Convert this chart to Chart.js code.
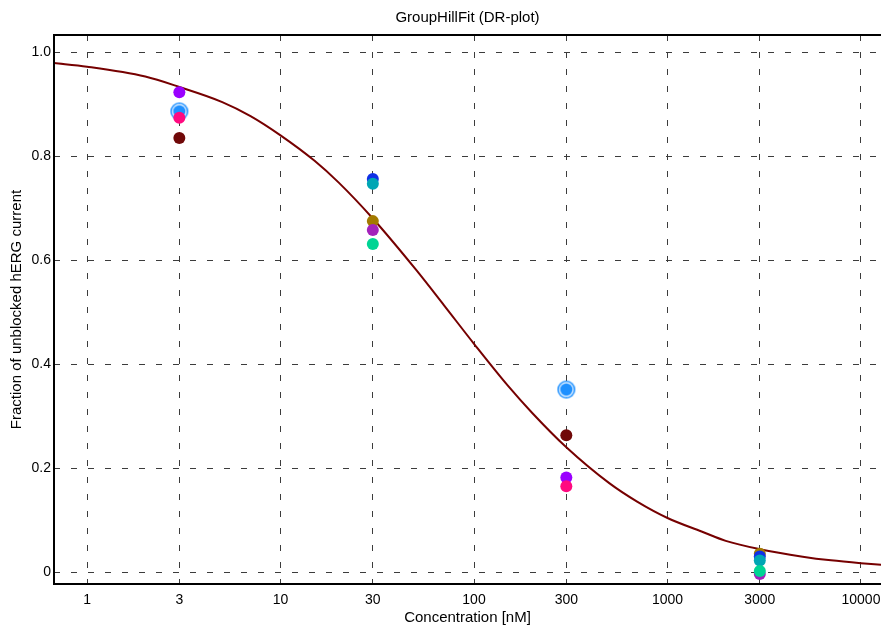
<!DOCTYPE html>
<html>
<head>
<meta charset="utf-8">
<title>GroupHillFit (DR-plot)</title>
<script src="https://cdn.jsdelivr.net/npm/chart.js@4.4.1/dist/chart.umd.min.js"></script>
<style>
  html, body { margin: 0; padding: 0; background: #fff; }
  #wrap { width: 881px; height: 627px; }
</style>
</head>
<body>
<div id="wrap"><canvas id="drPlot" width="881" height="627"></canvas></div>
<script>
// axis ticks
const xTickValues = [1, 3, 10, 30, 100, 300, 1000, 3000, 10000];
const yTickValues = [0, 0.2, 0.4, 0.6, 0.8, 1.0];
const yTickLabels = ['0', '0.2', '0.4', '0.6', '0.8', '1.0'];

// doses tested (nM) - two groups of cells
const lowDoses = [3, 300];
const highDoses = [30, 3000];

// fraction of unblocked current per cell
const cellPink = [0.874, 0.165];
const cellPurple = [0.923, 0.182];
const cellMaroon = [0.835, 0.263];
const cellRing = [0.886, 0.351];
const cellGreen = [0.631, 0.002];
const cellMagenta = [0.658, -0.004];
const cellTeal = [0.747, 0.022];
const cellBlue = [0.756, 0.030];
const cellOlive = [0.675, 0.035];

// fitted Hill curve
const fitConc = [0.675, 1, 2, 3, 5, 7, 10, 15, 20, 30, 50, 70, 100, 150, 200, 300, 500, 700, 1000, 1500, 2000, 3000, 5000, 7000, 10000, 12700];
const fitFrac = [0.979, 0.972, 0.953, 0.933, 0.904, 0.877, 0.840, 0.791, 0.749, 0.68, 0.582, 0.513, 0.439, 0.358, 0.306, 0.24, 0.171, 0.135, 0.104, 0.078, 0.060, 0.044, 0.0296, 0.0225, 0.017, 0.014];

function toPoints(xs, ys) {
    return xs.map((x, i) => ({ x: x, y: ys[i] }));
}

// blue filled dot with a white gap and an outer ring
function ringMarker() {
    const c = document.createElement('canvas');
    c.width = 20;
    c.height = 20;
    const g = c.getContext('2d');
    g.fillStyle = '#1e90ff';
    g.beginPath(); g.arc(10, 10, 9, 0, Math.PI * 2); g.fill();
    g.fillStyle = '#ffffff';
    g.beginPath(); g.arc(10, 10, 7.4, 0, Math.PI * 2); g.fill();
    g.fillStyle = '#1e90ff';
    g.beginPath(); g.arc(10, 10, 6.2, 0, Math.PI * 2); g.fill();
    return c;
}

function cellSet(label, xs, ys, color, order) {
    return {
        type: 'scatter',
        label: label,
        data: toPoints(xs, ys),
        backgroundColor: color,
        borderWidth: 0,
        pointRadius: 6,
        order: order
    };
}

// black frame on left, top and bottom
const framePlugin = {
    id: 'frame',
    afterDatasetsDraw(chart) {
        const { ctx, chartArea: a } = chart;
        ctx.save();
        ctx.strokeStyle = '#000';
        ctx.lineWidth = 2;
        ctx.beginPath();
        ctx.moveTo(a.right + 2, a.top);
        ctx.lineTo(a.left, a.top);
        ctx.lineTo(a.left, a.bottom);
        ctx.lineTo(a.right + 2, a.bottom);
        ctx.stroke();
        ctx.restore();
    }
};

const font = 'Liberation Sans, Arial, sans-serif';

const ringSet = cellSet('cell 4', lowDoses, cellRing, '#1e90ff', 4);
ringSet.pointStyle = ringMarker();

new Chart(document.getElementById('drPlot'), {
    type: 'line',
    data: {
        datasets: [
            cellSet('cell 1', lowDoses, cellPink, '#ff0a80', 1),
            cellSet('cell 2', lowDoses, cellPurple, '#9a00ff', 2),
            cellSet('cell 3', lowDoses, cellMaroon, '#700808', 3),
            ringSet,
            cellSet('cell 5', highDoses, cellGreen, '#00d494', 5),
            cellSet('cell 6', highDoses, cellMagenta, '#a322bb', 6),
            cellSet('cell 7', highDoses, cellTeal, '#00a6b4', 7),
            cellSet('cell 8', highDoses, cellBlue, '#1030e6', 8),
            cellSet('cell 9', highDoses, cellOlive, '#a37a00', 9),
            {
                label: 'Hill fit',
                data: toPoints(fitConc, fitFrac),
                borderColor: '#760000',
                borderWidth: 2,
                pointRadius: 0,
                fill: false,
                cubicInterpolationMode: 'monotone',
                order: 10
            }
        ]
    },
    options: {
        responsive: false,
        animation: false,
        devicePixelRatio: 1,
        layout: { autoPadding: false, padding: { left: 0, right: 0, top: 0, bottom: 0 } },
        plugins: {
            legend: { display: false },
            tooltip: { enabled: false },
            title: {
                display: true,
                fullSize: false,
                text: 'GroupHillFit (DR-plot)',
                color: '#000',
                font: { family: font, size: 15, weight: 'normal' },
                padding: { top: 9, bottom: 8 }
            }
        },
        scales: {
            x: {
                type: 'logarithmic',
                min: 0.675,
                max: 12690,
                afterBuildTicks: axis => { axis.ticks = xTickValues.map(v => ({ value: v })); },
                afterFit: axis => {
                    axis.height = 43;
                    axis.paddingLeft = 0;
                    axis.paddingRight = 0;
                },
                ticks: {
                    color: '#000',
                    font: { family: font, size: 14 },
                    padding: 8,
                    maxRotation: 0,
                    autoSkip: false,
                    callback: value => String(value)
                },
                grid: { color: '#3c3c3c', lineWidth: 1, drawTicks: false },
                border: { display: false, dash: [6, 11] },
                title: {
                    display: true,
                    text: 'Concentration [nM]',
                    color: '#000',
                    font: { family: font, size: 15 },
                    padding: { top: 0, bottom: 0 }
                }
            },
            y: {
                min: -0.023,
                max: 1.033,
                afterBuildTicks: axis => { axis.ticks = yTickValues.map(v => ({ value: v })); },
                afterFit: axis => {
                    axis.width = 54;
                    axis.paddingTop = 0;
                    axis.paddingBottom = 0;
                },
                ticks: {
                    color: '#000',
                    font: { family: font, size: 14 },
                    padding: 3,
                    autoSkip: false,
                    callback: (value, index) => yTickLabels[index]
                },
                grid: { color: '#3c3c3c', lineWidth: 1, drawTicks: false },
                border: { display: false, dash: [6, 11] },
                title: {
                    display: true,
                    text: 'Fraction of unblocked hERG current',
                    color: '#000',
                    font: { family: font, size: 15 },
                    padding: { top: 8, bottom: 0 }
                }
            }
        }
    },
    plugins: [framePlugin]
});
</script>
</body>
</html>
